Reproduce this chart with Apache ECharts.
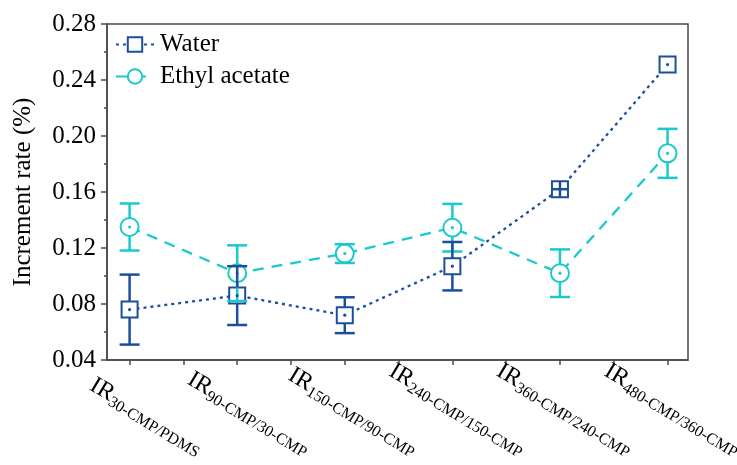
<!DOCTYPE html>
<html>
<head>
<meta charset="utf-8">
<script src="https://cdn.jsdelivr.net/npm/echarts@6/dist/echarts.min.js"></script>
<style>html,body{margin:0;padding:0;background:#fff;}#c{width:737px;height:465px;}</style>
</head>
<body>
<div id="c"></div>
<script>
// ---- data ----
const positions = [1, 2, 3, 4, 5, 6];
const subLabels = ["30-CMP/PDMS", "90-CMP/30-CMP", "150-CMP/90-CMP", "240-CMP/150-CMP", "360-CMP/240-CMP", "480-CMP/360-CMP"];
const water = [0.076, 0.086, 0.072, 0.107, 0.162, 0.251];
const waterErr = [0.025, 0.021, 0.0128, 0.0173, 0.0005, 0];
const ethyl = [0.135, 0.102, 0.116, 0.1345, 0.102, 0.1876];
const ethylErr = [0.0168, 0.0199, 0.0067, 0.017, 0.017, 0.0175];
const yTicks = [0.04, 0.08, 0.12, 0.16, 0.20, 0.24, 0.28];
const xTicks = [1, 1.5, 2, 2.5, 3, 3.5, 4, 4.5, 5, 5.5, 6];

// ---- style ----
const FONT = "'Liberation Serif','Times New Roman',serif";
const cWater = '#1B4F9C';
const cEthyl = '#19C9CB';
const axisCol = '#4a4a4a';
const xMin = 0.79, xMax = 6.19;
const gridLeft = 107, gridRight = 49, gridTop = 24, gridBottom = 105;
const plotW = 737 - gridLeft - gridRight;
const pxPerUnit = plotW / (xMax - xMin);
const labelShiftPx = 64;
const grid2Left = gridLeft + labelShiftPx;
const grid2Max = xMin + (737 - grid2Left) / pxPerUnit;

function errRender(color, half) {
  return function (params, api) {
    const x = api.value(0), y = api.value(1), e = api.value(2);
    const c = api.coord([x, y]);
    const t = api.coord([x, y + e]);
    const b = api.coord([x, y - e]);
    const ep = c[1] - t[1];
    const cw = 10;
    const ls = { stroke: color, lineWidth: 2.5 };
    const ch = [];
    if (e > 0) {
      if (ep > half) {
        ch.push({ type: 'line', shape: { x1: c[0], y1: c[1] - half, x2: c[0], y2: t[1] }, style: ls });
        ch.push({ type: 'line', shape: { x1: c[0], y1: c[1] + half, x2: c[0], y2: b[1] }, style: ls });
        ch.push({ type: 'line', shape: { x1: c[0] - cw, y1: t[1], x2: c[0] + cw, y2: t[1] }, style: ls });
        ch.push({ type: 'line', shape: { x1: c[0] - cw, y1: b[1], x2: c[0] + cw, y2: b[1] }, style: ls });
      } else if (ep < 2) {
        ch.push({ type: 'line', shape: { x1: c[0], y1: c[1] - half, x2: c[0], y2: c[1] + half }, style: ls });
        ch.push({ type: 'line', shape: { x1: c[0] - half, y1: c[1], x2: c[0] + half, y2: c[1] }, style: ls });
      } else {
        ch.push({ type: 'line', shape: { x1: c[0] - cw, y1: t[1], x2: c[0] + cw, y2: t[1] }, style: ls });
        ch.push({ type: 'line', shape: { x1: c[0] - cw, y1: b[1], x2: c[0] + cw, y2: b[1] }, style: ls });
      }
    }
    ch.push({ type: 'circle', shape: { cx: c[0], cy: c[1], r: 1.6 }, style: { fill: color } });
    return { type: 'group', children: ch };
  };
}

const chart = echarts.init(document.getElementById('c'), null, { renderer: 'canvas' });
chart.setOption({
  animation: false,
  backgroundColor: '#fff',
  textStyle: { fontFamily: FONT },
  grid: [
    {
      left: gridLeft, right: gridRight, top: gridTop, bottom: gridBottom,
      show: true, borderColor: axisCol, borderWidth: 1.5,
      containLabel: false, outerBoundsMode: 'none'
    },
    {
      left: grid2Left, right: 0, top: gridTop, bottom: gridBottom,
      show: false, containLabel: false, outerBoundsMode: 'none'
    }
  ],
  legend: {
    data: ['Water', 'Ethyl acetate'],
    orient: 'vertical', left: 110, top: 27,
    itemWidth: 38, itemHeight: 18, itemGap: 7,
    textStyle: { fontFamily: FONT, fontSize: 25, color: '#000', padding: [0, 0, 0, 1] }
  },
  xAxis: [
    {
      type: 'value', gridIndex: 0, min: xMin, max: xMax,
      axisLine: { show: true, onZero: false, lineStyle: { color: axisCol, width: 1.5 } },
      axisTick: { show: true, customValues: xTicks, length: 5, lineStyle: { color: axisCol, width: 1.5 } },
      axisLabel: { show: false },
      splitLine: { show: false }
    },
    {
      type: 'value', gridIndex: 1, min: xMin, max: grid2Max, position: 'bottom',
      axisLine: { show: false }, axisTick: { show: false }, splitLine: { show: false },
      axisLabel: {
        customValues: positions,
        rotate: -31, align: 'right', verticalAlign: 'bottom', margin: 101,
        formatter: function (v) { return '{a|IR}{b|' + subLabels[Math.round(v) - 1] + '}'; },
        rich: {
          a: { fontFamily: FONT, fontSize: 24, color: '#000', lineHeight: 26, verticalAlign: 'top' },
          b: { fontFamily: FONT, fontSize: 16, color: '#000', lineHeight: 14, padding: [15, 0, 0, 0], verticalAlign: 'bottom' }
        }
      }
    }
  ],
  yAxis: [
    {
      type: 'value', gridIndex: 0, min: yTicks[0], max: yTicks[yTicks.length - 1], interval: 0.04,
      axisLine: { show: true, onZero: false, lineStyle: { color: axisCol, width: 1.5 } },
      axisTick: { show: true, length: 6, lineStyle: { color: axisCol, width: 1.5 } },
      minorTick: { show: true, splitNumber: 2, length: 3, lineStyle: { color: axisCol, width: 1.5 } },
      splitLine: { show: false },
      axisLabel: { fontFamily: FONT, fontSize: 25, color: '#000', margin: 11, formatter: function (v) { return v.toFixed(2); } },
      name: 'Increment rate (%)', nameLocation: 'middle', nameGap: 71,
      nameTextStyle: { fontFamily: FONT, fontSize: 25, color: '#000' }
    },
    {
      type: 'value', gridIndex: 1, min: yTicks[0], max: yTicks[yTicks.length - 1], show: false
    }
  ],
  series: [
    {
      name: 'Water', type: 'line', xAxisIndex: 0, yAxisIndex: 0, z: 2,
      data: positions.map((p, i) => [p, water[i]]),
      symbol: 'emptyRect', symbolSize: 16,
      lineStyle: { color: cWater, width: 2.3, type: [3, 4] },
      itemStyle: { color: cWater, borderWidth: 2.7 }
    },
    {
      name: 'Ethyl acetate', type: 'line', xAxisIndex: 0, yAxisIndex: 0, z: 2,
      data: positions.map((p, i) => [p, ethyl[i]]),
      symbol: 'emptyCircle', symbolSize: 18,
      lineStyle: { color: cEthyl, width: 2.3, type: [11, 8] },
      itemStyle: { color: cEthyl, borderWidth: 2.7 }
    },
    {
      type: 'custom', xAxisIndex: 0, yAxisIndex: 0, z: 4,
      renderItem: errRender(cEthyl, 9),
      data: positions.map((p, i) => [p, ethyl[i], ethylErr[i]])
    },
    {
      type: 'custom', xAxisIndex: 0, yAxisIndex: 0, z: 5,
      renderItem: errRender(cWater, 8),
      data: positions.map((p, i) => [p, water[i], waterErr[i]])
    }
  ]
});
</script>
</body>
</html>
